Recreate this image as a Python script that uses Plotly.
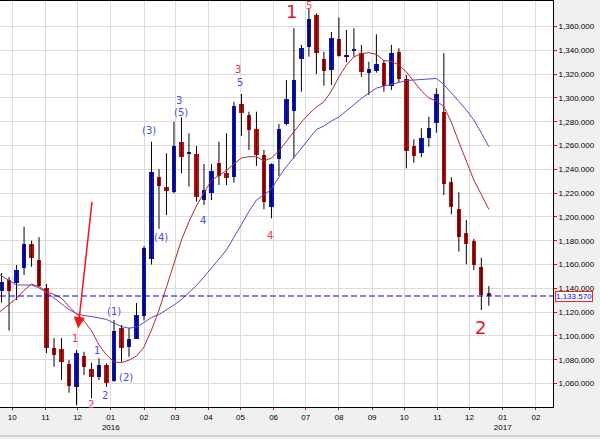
import plotly.graph_objects as go
import pandas as pd

# ---------------- data (weekly candles) ----------------
week_start = ["2015-09-21","2015-09-28","2015-10-05","2015-10-12","2015-10-19","2015-10-26",
              "2015-11-02","2015-11-09","2015-11-16","2015-11-23","2015-11-30","2015-12-07",
              "2015-12-14","2015-12-21","2015-12-28","2016-01-04","2016-01-11","2016-01-18",
              "2016-01-25","2016-02-01","2016-02-08","2016-02-15","2016-02-22","2016-02-29",
              "2016-03-07","2016-03-14","2016-03-21","2016-03-28","2016-04-04","2016-04-11",
              "2016-04-18","2016-04-25","2016-05-02","2016-05-09","2016-05-16","2016-05-23",
              "2016-05-30","2016-06-06","2016-06-13","2016-06-20","2016-06-27","2016-07-04",
              "2016-07-11","2016-07-18","2016-07-25","2016-08-01","2016-08-08","2016-08-15",
              "2016-08-22","2016-08-29","2016-09-05","2016-09-12","2016-09-19","2016-09-26",
              "2016-10-03","2016-10-10","2016-10-17","2016-10-24","2016-10-31","2016-11-07",
              "2016-11-14","2016-11-21","2016-11-28","2016-12-05","2016-12-12","2016-12-19"]

open_ = [1137.7,1147.0,1144.7,1157.1,1177.3,1163.9,1140.5,1089.6,1089.0,1076.1,1057.3,1083.1,
         1072.2,1065.2,1075.5,1062.1,1106.9,1090.4,1097.4,1117.0,1164.4,1233.8,1225.4,1221.2,
         1263.2,1252.9,1252.9,1214.2,1220.3,1245.0,1237.1,1233.3,1294.6,1285.6,1273.6,1252.0,
         1208.1,1248.4,1278.1,1289.2,1332.4,1343.0,1369.7,1332.4,1323.4,1349.5,1334.1,1339.4,
         1337.5,1320.7,1322.9,1329.6,1310.0,1338.3,1315.6,1259.6,1253.4,1266.6,1279.2,1288.4,
         1229.6,1206.4,1186.2,1180.0,1158.2,1136.3]
high = [1152.9,1149.5,1159.6,1191.8,1180.0,1183.0,1143.6,1098.2,1098.2,1079.7,1088.2,1086.7,
        1077.5,1081.2,1077.0,1113.4,1109.2,1106.9,1127.6,1175.5,1263.2,1240.0,1253.4,1280.0,
        1283.7,1270.3,1259.6,1244.5,1244.5,1263.2,1270.3,1296.8,1303.3,1288.4,1288.4,1256.2,
        1245.0,1278.1,1315.0,1358.5,1344.5,1375.3,1371.1,1338.8,1355.4,1367.7,1357.1,1358.5,
        1344.5,1330.4,1353.4,1331.8,1344.5,1341.7,1319.2,1265.2,1274.5,1284.2,1308.1,1337.5,
        1233.3,1220.7,1197.4,1181.4,1165.7,1141.9]
low = [1128.0,1104.5,1130.2,1151.2,1158.2,1141.0,1085.6,1074.1,1062.9,1052.3,1041.9,1067.1,
       1047.6,1062.9,1057.3,1061.5,1078.3,1082.5,1097.4,1113.0,1160.0,1190.0,1201.6,1219.8,
       1236.6,1225.4,1212.8,1210.0,1214.2,1226.8,1226.8,1228.7,1268.0,1256.2,1242.8,1206.4,
       1198.8,1234.4,1277.0,1249.2,1305.2,1334.6,1320.1,1310.3,1310.8,1334.6,1329.9,1334.6,
       1317.8,1302.4,1321.2,1305.2,1306.6,1312.8,1240.8,1245.5,1250.1,1259.0,1270.8,1218.4,
       1202.2,1170.8,1160.2,1155.4,1121.8,1125.4]
close = [1145.0,1137.7,1155.4,1177.3,1165.5,1142.2,1089.6,1084.0,1077.8,1058.2,1085.9,1074.1,
         1065.7,1075.5,1060.7,1104.1,1089.6,1097.4,1117.6,1174.1,1238.0,1226.2,1221.8,1259.6,
         1250.6,1254.8,1217.0,1222.6,1238.6,1234.4,1232.9,1293.2,1287.6,1273.0,1252.0,1212.8,
         1244.5,1273.6,1298.8,1315.0,1341.7,1366.3,1337.5,1322.6,1350.6,1335.5,1336.1,1341.3,
         1321.5,1324.3,1328.5,1310.0,1337.5,1315.6,1255.6,1251.2,1266.1,1275.0,1303.3,1227.4,
         1208.1,1183.4,1177.0,1159.6,1134.4,1133.57]

# moving averages (first point is the week before the first visible candle)
ma_dates = ["2015-09-14"] + week_start
ma_fast = [1116.4,1121.4,1126.5,1131.6,1138.3,1143.6,1141.5,1137.1,1134.8,1131.8,1124.7,1118.8,
           1112.5,1104.5,1092.4,1084.0,1078.2,1077.6,1079.7,1083.1,1090.7,1105.0,1121.8,1141.1,
           1161.3,1180.6,1196.1,1209.2,1220.5,1230.6,1234.8,1239.0,1244.5,1249.5,1250.6,1250.6,
           1247.0,1249.5,1255.4,1263.8,1272.2,1279.7,1286.5,1292.4,1296.6,1305.8,1317.6,1327.6,
           1334.4,1337.3,1338.0,1336.5,1331.4,1330.6,1327.6,1321.8,1313.8,1305.8,1299.9,1297.4,
           1292.8,1279.7,1262.9,1247.0,1231.0,1218.8,1206.4]
ma_slow = [1154.3,1150.3,1146.4,1142.8,1142.8,1142.8,1140.3,1136.5,1131.8,1126.8,1122.2,1118.8,
           1117.1,1116.3,1115.0,1113.9,1110.8,1107.9,1106.5,1107.5,1111.3,1115.5,1118.0,1121.8,
           1126.0,1130.6,1136.5,1142.4,1149.5,1157.5,1164.6,1172.2,1182.3,1193.6,1204.5,1214.2,
           1218.4,1223.4,1233.5,1242.4,1249.9,1257.9,1266.3,1273.4,1276.4,1280.6,1284.0,1289.4,
           1294.9,1299.5,1304.1,1308.1,1310.0,1311.3,1312.9,1314.6,1315.0,1315.9,1316.3,1316.3,
           1311.3,1304.5,1297.0,1289.8,1281.4,1270.5,1259.0]

last_price = 1133.57

# wave labels
label_text = ["1", "5", "3", "5", "3", "(5)", "(3)", "(4)", "4", "4",
              "(1)", "(2)", "1", "2", "1", "2", "2"]
label_date = ["2016-06-17 10:00", "2016-07-03 19:00", "2016-04-28 14:00", "2016-04-30 05:00",
              "2016-03-04 14:00", "2016-03-06 05:00", "2016-02-05 17:00", "2016-02-17 05:00",
              "2016-03-27 00:00", "2016-05-29 02:00", "2016-01-03 19:00", "2016-01-15 00:00",
              "2015-12-19 05:00", "2015-12-26 10:00", "2015-11-28 10:00", "2015-12-13 02:00",
              "2016-12-11 12:00"]
label_value = [1373.0, 1377.8, 1324.0, 1312.8, 1298.2, 1287.9, 1272.2, 1182.9, 1197.4, 1184.8,
               1120.3, 1064.9, 1088.1, 1050.3, 1098.0, 1042.8, 1107.2]
label_color = ["#e8142c", "#f0405a", "#f0304e", "#4b4bf0", "#4b4bf0", "#4b4bf0", "#4b4bf0",
               "#4b4bf0", "#4b4bf0", "#f0304e", "#4b4bf0", "#4b4bf0", "#4b4bf0", "#4b4bf0",
               "#f0304e", "#f0304e", "#e8142c"]
label_size = [18, 10, 10, 10, 10, 10, 10, 10, 10, 10, 10, 10, 10, 10, 10, 10, 18]

arrow_tip_date = "2015-12-01 12:00"
arrow_tip_value = 1106.4

month_ticks = ["2015-10-01","2015-11-01","2015-12-01","2016-01-01","2016-02-01","2016-03-01",
               "2016-04-01","2016-05-01","2016-06-01","2016-07-01","2016-08-01","2016-09-01",
               "2016-10-01","2016-11-01","2016-12-01","2017-01-01","2017-02-01"]
month_text = ["10","11","12","01<br>2016","02","03","04","05","06","07","08","09",
              "10","11","12","01<br>2017","02"]
price_ticks = list(range(1060, 1361, 20))
price_text = [f"{v:,.3f}" for v in price_ticks]

# ---------------- figure ----------------
UP = "#0a14c8"
DOWN = "#c80a0a"

dates = pd.to_datetime(week_start)
wx, wy = [], []
for d, h, l in zip(dates, high, low):
    wx += [d, d, None]
    wy += [l, h, None]

fig = go.Figure()
fig.add_trace(go.Scatter(x=wx, y=wy, mode="lines", line=dict(color="black", width=1),
                         hoverinfo="skip"))
body_base = [min(o, c) for o, c in zip(open_, close)]
body_h = [max(abs(c - o), 0.6) for o, c in zip(open_, close)]
body_col = [UP if c >= o else DOWN for o, c in zip(open_, close)]
fig.add_trace(go.Bar(x=dates, y=body_h, base=body_base, width=4 * 86400000,
                     marker=dict(color=body_col, line=dict(width=0))))
fig.add_trace(go.Scatter(x=pd.to_datetime(ma_dates), y=ma_fast, mode="lines",
                         line=dict(color="#b52a2a", width=1)))
fig.add_trace(go.Scatter(x=pd.to_datetime(ma_dates), y=ma_slow, mode="lines",
                         line=dict(color="#5f44d0", width=1)))

fig.add_shape(type="line", xref="paper", x0=0, x1=1, yref="y", y0=last_price, y1=last_price,
              line=dict(color="#0000ff", width=1.2, dash="6px,3px"))
# thin frame line at the bottom of the window
fig.add_shape(type="line", xref="paper", x0=-0.01, x1=1.09, yref="paper", y0=-0.0714, y1=-0.0714,
              line=dict(color="#a4aec0", width=1))

annotations = []
for t, d, v, c, s in zip(label_text, label_date, label_value, label_color, label_size):
    annotations.append(dict(x=d, y=v, xref="x", yref="y", text=t, showarrow=False,
                            font=dict(family="DejaVu Sans", size=s, color=c)))
annotations.append(dict(x=arrow_tip_date, y=arrow_tip_value, xref="x", yref="y", text="",
                        showarrow=True, ax=14, ay=-128, arrowhead=2, arrowsize=1.5,
                        arrowwidth=1.5, arrowcolor="#f01818"))
annotations.append(dict(x=1, xshift=2, xanchor="left", xref="paper", y=last_price, yref="y",
                        yshift=-1, text=f"{last_price:,.3f}", showarrow=False, bgcolor="white",
                        bordercolor="#ff2020", borderwidth=1, borderpad=0,
                        font=dict(family="Liberation Sans", size=8, color="#0000ff")))

fig.update_layout(
    width=600, height=439,
    margin=dict(l=0, r=47, t=1, b=32),
    paper_bgcolor="#f0f0f0", plot_bgcolor="white",
    showlegend=False, barmode="overlay", bargap=0,
    annotations=annotations,
    xaxis=dict(type="date", range=["2015-09-19 13:00", "2017-02-16 22:00"],
               tickvals=month_ticks, ticktext=month_text,
               showgrid=True, gridcolor="#dcdcdc", gridwidth=1,
               showline=True, linecolor="black", linewidth=1, mirror=True,
               ticks="outside", ticklen=2, tickcolor="#ff0000",
               tickfont=dict(family="Liberation Sans", size=8, color="black"),
               zeroline=False, fixedrange=True),
    yaxis=dict(side="right", range=[1040.3, 1381.4],
               tickvals=price_ticks, ticktext=price_text,
               showgrid=True, gridcolor="#dcdcdc", gridwidth=1,
               showline=True, linecolor="black", linewidth=1, mirror=True,
               ticks="outside", ticklen=3, tickcolor="#ff0000",
               tickfont=dict(family="Liberation Sans", size=8, color="black"),
               zeroline=False, fixedrange=True),
)

fig.write_html("out.html", config={"displayModeBar": False},
               post_script="document.body.style.margin='0';document.body.style.overflow='hidden';")
